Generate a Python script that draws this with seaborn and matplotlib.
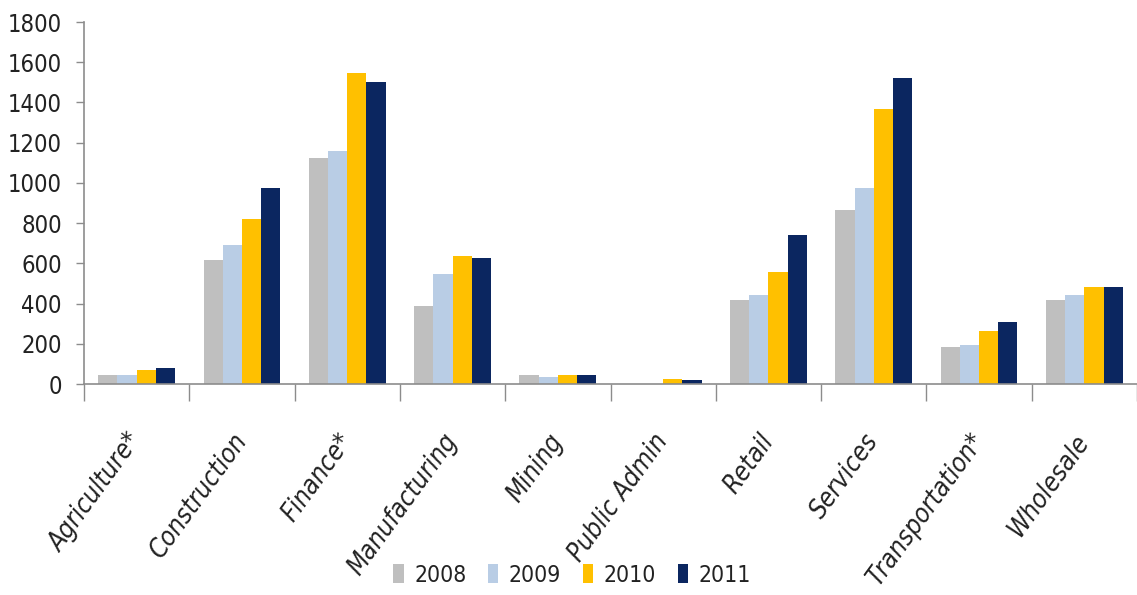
import matplotlib
matplotlib.use("Agg")
import matplotlib.pyplot as plt
from matplotlib import font_manager
import numpy as np
import pandas as pd
import seaborn as sns

sectors = ["Agriculture*", "Construction", "Finance*", "Manufacturing", "Mining",
           "Public Admin", "Retail", "Services", "Transportation*", "Wholesale"]
years = ["2008", "2009", "2010", "2011"]
v2008 = [45, 615, 1125, 390, 45, 0, 420, 865, 185, 420]
v2009 = [45, 690, 1160, 545, 35, 0, 445, 975, 195, 445]
v2010 = [70, 820, 1545, 635, 45, 25, 555, 1365, 265, 480]
v2011 = [80, 975, 1500, 625, 45, 22, 740, 1520, 310, 480]
colors = ["#BFBFBF", "#B9CDE5", "#FFC000", "#0B2660"]

df = pd.DataFrame({
    "sector": np.repeat(sectors, len(years)),
    "year": years * len(sectors),
    "value": np.column_stack([v2008, v2009, v2010, v2011]).ravel(),
})

sns.set_theme(style="white")
installed = {f.name for f in font_manager.fontManager.ttflist}
narrow = [n for n in ["DejaVu Sans Condensed", "Liberation Sans Narrow"] if n in installed]
plt.rcParams["font.family"] = narrow + ["DejaVu Sans"]
plt.rcParams["font.stretch"] = "condensed"

fig = plt.figure(figsize=(11.37, 5.95), dpi=100)
ax = fig.add_axes([84 / 1137, 1 - 384 / 595, 1 - 84 / 1137, (384 - 22) / 595])

sns.barplot(data=df, x="sector", y="value", hue="year", order=sectors,
            hue_order=years, palette=colors, width=0.73, gap=0,
            saturation=1, linewidth=0, ax=ax, legend=True)

ax.set_xlim(-0.5, len(sectors) - 0.5)
ax.set_ylim(0, 1800)
ax.set_yticks(np.arange(0, 1801, 200))
ax.set_xlabel("")
ax.set_ylabel("")

for side in ["top", "right"]:
    ax.spines[side].set_visible(False)
for side in ["left", "bottom"]:
    ax.spines[side].set_color("#8C8C8C")
    ax.spines[side].set_linewidth(1.2)

ax.tick_params(axis="y", which="major", length=6, width=1, color="#8C8C8C",
               direction="out", left=True, labelsize=17, labelcolor="#222222", pad=10)
ax.set_xticks(np.arange(-0.5, len(sectors) - 0.4, 1), minor=True)
ax.tick_params(axis="x", which="minor", length=12, width=1, color="#8C8C8C",
               direction="out", bottom=True)
ax.tick_params(axis="x", which="major", length=0, pad=38)
ax.set_xticks(range(len(sectors)))
ax.set_xticklabels(sectors, rotation=54, ha="right", va="center",
                   rotation_mode="anchor", fontsize=18.5, style="italic",
                   color="#222222")

handles, labels = ax.get_legend_handles_labels()
ax.legend(handles, labels, loc="center", ncol=4, frameon=False, fontsize=16.5,
          handlelength=0.45, handleheight=0.85, handletextpad=0.45,
          columnspacing=0.95, labelcolor="#222222",
          bbox_to_anchor=(572 / 1137, 1 - 575 / 595),
          bbox_transform=fig.transFigure)

fig.savefig("out.png", dpi=100)
